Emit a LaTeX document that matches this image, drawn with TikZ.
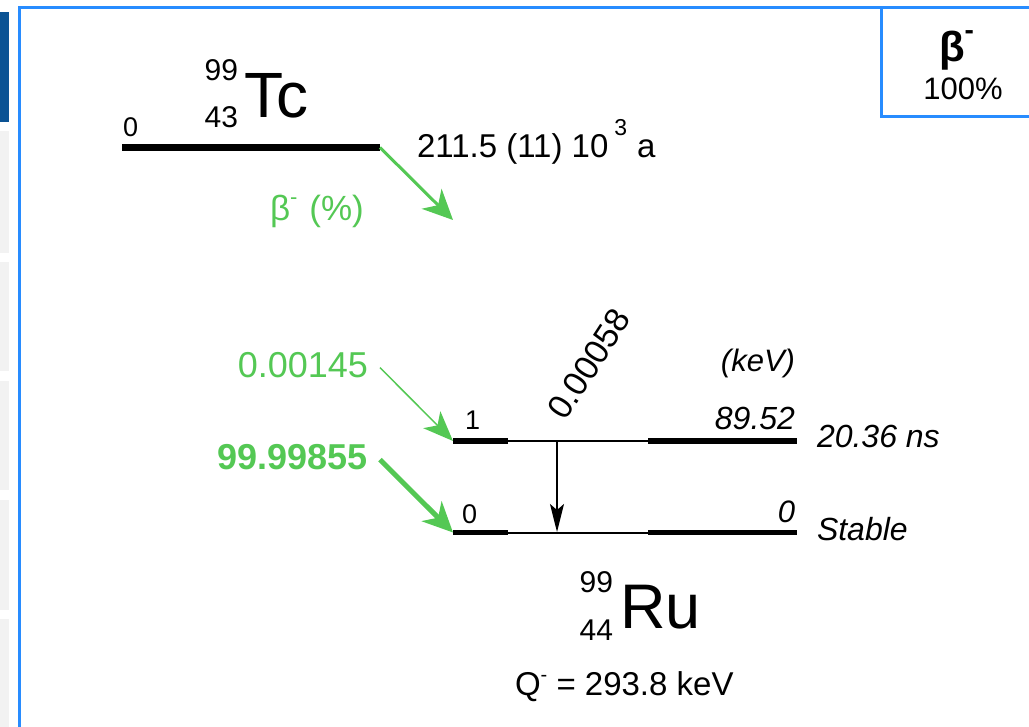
\documentclass[tikz,border=0pt]{standalone}
\usepackage{fontspec}
\setmainfont{Liberation Sans}
\usetikzlibrary{arrows.meta}
\definecolor{decaygreen}{RGB}{84,200,84}
\definecolor{frameblue}{RGB}{40,140,255}
\definecolor{navblue}{RGB}{11,83,148}
\definecolor{navgray}{RGB}{242,242,242}
\newcommand\fs[1]{\fontsize{#1}{#1}\selectfont}
\tikzset{
  txt/.style={inner sep=0pt, outer sep=0pt},
  levelthin/.style={line width=2pt},
  levelthick/.style={line width=5.5pt},
  greenarrow/.style={draw=decaygreen, -{Stealth[length=30pt,width=28pt,inset=9pt]}},
  gammaarrow/.style={line width=1.5pt, -{Stealth[length=28pt,width=14pt,inset=6pt]}},
  framepen/.style={draw=frameblue, line width=3pt},
}
\begin{document}
\begin{tikzpicture}[x=1pt,y=-1pt]
\path[use as bounding box] (0,0) rectangle (1029,727);
\fill[white] (0,0) rectangle (1029,727);

% side navigation strip
\fill[navblue] (0,12) rectangle (9,122);
\foreach \a/\b in {131/253, 262/371, 381/490, 500/610, 619/727}
  \fill[navgray] (0,\a) rectangle (9,\b);

% panel frame and decay-mode box
\draw[framepen] (19.5,727) -- (19.5,8) -- (1029,8);
\draw[framepen] (881.5,8) -- (881.5,117) -- (1029,117);
\node[txt, anchor=base west, font=\bfseries\fs{42}] (modeSym) at (939,62) {β\raisebox{22pt}{\fs{28}-}};
\node[txt, anchor=base, font=\fs{31}] (modePct) at (963,100) {100\%};

% parent nucleus
\coordinate (tcL) at (122,147.5);
\coordinate (tcR) at (380,147.5);
\draw[line width=7pt] (tcL) -- (tcR);
\node[txt, anchor=base west, font=\fs{27}] (tc0) at (123,137) {0};
\node[txt, anchor=base east, font=\fs{30}] (tcA) at (238,81) {99};
\node[txt, anchor=base east, font=\fs{30}] (tcZ) at (238,128) {43};
\node[txt, anchor=base west, font=\fs{64}] (tcSym) at (244,118) {Tc};
\node[txt, anchor=base west, font=\fs{33}] (tcHalf) at (417,158)
  {211.5 (11) 10\hspace{6pt}\raisebox{22pt}{\fs{23}3}\hspace{10pt}a};
\coordinate (tcDecay) at (453,220);
\draw[greenarrow, line width=3pt] (tcR) -- (tcDecay);
\node[txt, anchor=base west, font=\fs{35}, text=decaygreen] (tcMode) at (270,221)
  {β\raisebox{16pt}{\fs{22}-}\hspace{12pt}(\%)};

% daughter levels
\coordinate (l1a) at (453,441);
\coordinate (l1b) at (508,441);
\coordinate (l1c) at (648,441);
\coordinate (l1d) at (797,441);
\coordinate (l0a) at (453,532.5);
\coordinate (l0b) at (508,532.5);
\coordinate (l0c) at (648,532.5);
\coordinate (l0d) at (797,532.5);
\draw[levelthin] (l1a) -- (l1d);
\draw[levelthick] (l1a) -- (l1b);
\draw[levelthick] (l1c) -- (l1d);
\draw[levelthin] (l0a) -- (l0d);
\draw[levelthick] (l0a) -- (l0b);
\draw[levelthick] (l0c) -- (l0d);

\node[txt, anchor=base west, font=\fs{27}] (l1lab) at (465,430) {1};
\node[txt, anchor=base west, font=\fs{27}] (l0lab) at (462,523) {0};
\node[txt, anchor=base east, font=\itshape\fs{31}] (unit) at (795,372) {(keV)};
\node[txt, anchor=base east, font=\itshape\fs{32}] (e1) at (795,430) {89.52};
\node[txt, anchor=base east, font=\itshape\fs{31}] (e0) at (795,522) {0};
\node[txt, anchor=base west, font=\itshape\fs{32}] (t1) at (817,448) {20.36 ns};
\node[txt, anchor=base west, font=\itshape\fs{32}] (t0) at (817,540) {Stable};

% gamma transition
\coordinate (g1) at (557,441);
\coordinate (g0) at (557,532);
\draw[gammaarrow] (g1) -- (g0);
\node[txt, rotate=57, font=\fs{34}] (gint) at (589,364) {0.00058};

% beta feedings
\node[txt, anchor=base east, font=\fs{36}, text=decaygreen] (b1) at (368,378) {0.00145};
\node[txt, anchor=base east, font=\bfseries\fs{36}, text=decaygreen] (b0) at (368,470) {99.99855};
\draw[greenarrow, line width=1.5pt, -{Stealth[length=30pt,width=24pt,inset=8pt]}]
  ([xshift=12pt,yshift=-2pt]b1.east) -- (l1a);
\draw[greenarrow, line width=5pt] ([xshift=12pt,yshift=-2pt]b0.east) -- (l0a);

% daughter nucleus
\node[txt, anchor=base east, font=\fs{30}] (ruA) at (613,592) {99};
\node[txt, anchor=base east, font=\fs{30}] (ruZ) at (613,640) {44};
\node[txt, anchor=base west, font=\fs{63}] (ruSym) at (620,628) {Ru};
\node[txt, anchor=base west, font=\fs{33}] (qval) at (515,695) {Q\raisebox{14pt}{\fs{20}-}~= 293.8 keV};
\end{tikzpicture}
\end{document}
